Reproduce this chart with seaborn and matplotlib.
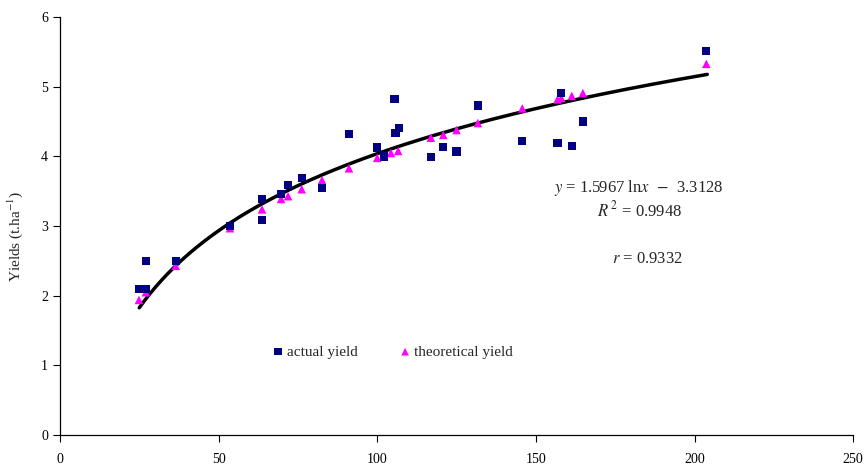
import numpy as np
import pandas as pd
import seaborn as sns
import matplotlib.pyplot as plt

# --- data ---
actual_x = [24.9, 27.1, 27.1, 36.5, 53.6, 63.7, 63.7, 69.7, 71.9, 76.2, 82.6, 91.1,
            100.0, 102.1, 105.4, 105.8, 106.8, 116.9, 120.8, 125.0, 131.7, 145.7,
            156.8, 158.0, 161.3, 164.8, 203.7]
actual_y = [2.10, 2.10, 2.50, 2.50, 3.00, 3.39, 3.09, 3.46, 3.59, 3.69, 3.55, 4.32,
            4.13, 4.00, 4.83, 4.34, 4.41, 3.99, 4.14, 4.07, 4.73, 4.22,
            4.19, 4.91, 4.15, 4.50, 5.51]

theo_x = [24.9, 27.1, 36.5, 53.6, 63.7, 69.7, 71.9, 76.2, 82.6, 91.1, 100.0, 102.1,
          104.3, 106.6, 116.9, 120.8, 125.0, 131.7, 145.7, 156.8, 158.0, 161.3,
          164.8, 203.7]
theo_y = [1.94, 2.05, 2.43, 2.97, 3.24, 3.39, 3.43, 3.53, 3.66, 3.83, 3.98, 4.01,
          4.05, 4.08, 4.27, 4.31, 4.38, 4.48, 4.69, 4.82, 4.84, 4.87,
          4.91, 5.33]

# log trendline shown on the chart: y = a ln x + b
coef_a = 1.5967
coef_b = -3.3128
fit_range = (25, 204)

actual_df = pd.DataFrame({'x': actual_x, 'y': actual_y})
theo_df = pd.DataFrame({'x': theo_x, 'y': theo_y})
fit_x = np.linspace(fit_range[0], fit_range[1], 200)
fit_df = pd.DataFrame({'x': fit_x, 'y': coef_a * np.log(fit_x) + coef_b})

# --- plot ---
sns.set_style('white')
plt.rcParams['font.family'] = ['Liberation Serif', 'DejaVu Serif']
plt.rcParams['mathtext.fontset'] = 'stix'

fig = plt.figure(figsize=(8.68, 4.65), dpi=100)
ax = fig.add_axes([0.069, 0.0645, 0.914, 0.8985])

sns.lineplot(data=fit_df, x='x', y='y', color='black', linewidth=2.5, ax=ax,
             legend=False)
sns.scatterplot(data=theo_df, x='x', y='y', marker='^', color='#FF00FF', s=38,
                edgecolor='none', ax=ax, label='theoretical yield', zorder=3)
sns.scatterplot(data=actual_df, x='x', y='y', marker='s', color='#000080', s=36,
                edgecolor='none', ax=ax, label='actual yield', zorder=4)

ax.set_xlim(0, 250)
ax.set_ylim(0, 6)
ax.set_xticks(range(0, 251, 50))
ax.set_yticks(range(0, 7))
ax.set_xlabel('')
ax.set_ylabel('Yields (t.ha$^{-1}$)', fontsize=11)
ax.yaxis.set_label_coords(-0.044, 0.476)
ax.tick_params(axis='both', direction='out', length=5, width=0.8, labelsize=10,
               colors='black', bottom=True, left=True)
ax.tick_params(axis='x', pad=8)
sns.despine(ax=ax)
for s in ['left', 'bottom']:
    ax.spines[s].set_color('black')
    ax.spines[s].set_linewidth(0.9)

handles, labels = ax.get_legend_handles_labels()
ax.legend(handles[::-1], labels[::-1], ncol=2, frameon=False, fontsize=11,
          loc='center left', bbox_to_anchor=(0.267, 0.199), borderpad=0,
          borderaxespad=0, handlelength=0.8, handletextpad=0.2,
          columnspacing=2.7, markerscale=0.9)

ax.text(182.5, 3.545, r'$\it{y}$ = 1.5967 ln$\it{x}$  $-$  3.3128', ha='center',
        va='center', fontsize=12)
ax.text(182.8, 3.23, r'$\it{R}^{\,2}$ = 0.9948', ha='center', va='center', fontsize=12)
ax.text(185, 2.53, r'$\it{r}$ = 0.9332', ha='center', va='center', fontsize=12)

plt.savefig('out.png', dpi=100)
